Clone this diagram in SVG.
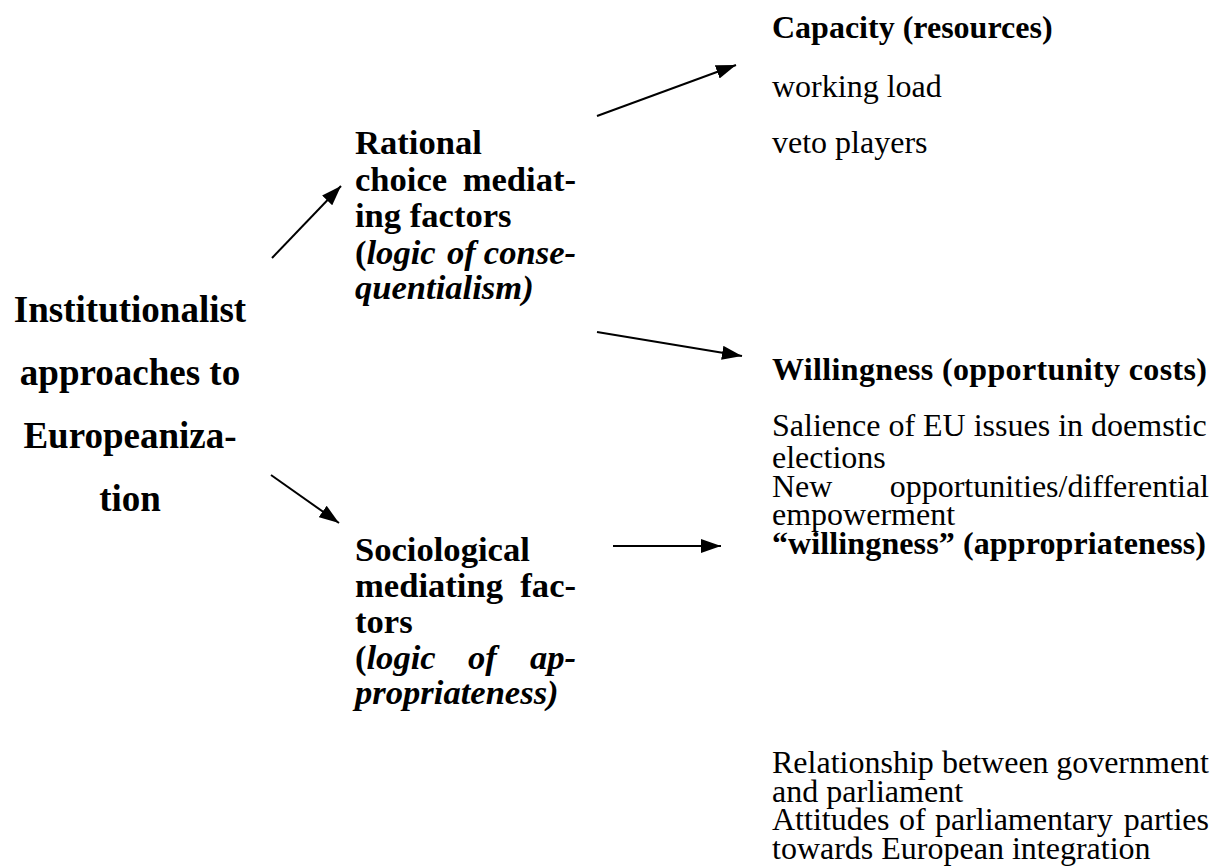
<svg xmlns="http://www.w3.org/2000/svg" width="1219" height="867" viewBox="0 0 1219 867">
<style>
text{font-family:"Liberation Serif","Times New Roman",serif;fill:#000}
.l{font-size:37px;font-weight:bold;text-anchor:middle}
.m{font-size:34.6px;font-weight:bold}
.i{font-style:italic}
.r{font-size:32px}
.b{font-weight:bold}
.e{text-anchor:end}
.arr{stroke:#000;stroke-width:2;fill:none;marker-end:url(#ah)}
</style>
<defs>
<marker id="ah" viewBox="0 0 20 14" refX="20" refY="7" markerWidth="20" markerHeight="14" markerUnits="userSpaceOnUse" orient="auto">
<path d="M0,0 L20,7 L0,14 z" fill="#000"/>
</marker>
</defs>
<rect width="1219" height="867" fill="#fff"/>
<g id="connectors">
<line class="arr" x1="272" y1="258" x2="341" y2="186"/>
<line class="arr" x1="271" y1="475" x2="339" y2="523"/>
<line class="arr" x1="597" y1="116" x2="736" y2="65"/>
<line class="arr" x1="597" y1="332" x2="742" y2="356"/>
<line class="arr" x1="613" y1="546" x2="721" y2="546"/>
</g>
<g id="root">
<text class="l" x="130" y="322">Institutionalist</text>
<text class="l" x="130" y="385">approaches to</text>
<text class="l" x="130" y="448">Europeaniza-</text>
<text class="l" x="130" y="511">tion</text>
</g>
<g id="rational">
<text class="m" x="355" y="154">Rational</text>
<text class="m" x="355" y="190.5">choice</text>
<text class="m e" x="576" y="190.5">mediat-</text>
<text class="m" x="355" y="227">ing factors</text>
<text class="m" x="355" y="263.5">(<tspan class="i">logic</tspan></text>
<text class="m i" x="447" y="263.5">of</text>
<text class="m i e" x="576" y="263.5">conse-</text>
<text class="m i" x="355" y="299">quentialism)</text>
</g>
<g id="sociological">
<text class="m" x="355" y="561">Sociological</text>
<text class="m" x="355" y="597">mediating</text>
<text class="m e" x="576" y="597">fac-</text>
<text class="m" x="355" y="633">tors</text>
<text class="m" x="355" y="669">(<tspan class="i">logic</tspan></text>
<text class="m i" x="468" y="669">of</text>
<text class="m i e" x="576" y="669">ap-</text>
<text class="m i" x="355" y="704">propriateness)</text>
</g>
<g id="capacity">
<text class="r b" x="772" y="38">Capacity (resources)</text>
<text class="r" x="772" y="97">working load</text>
<text class="r" x="772" y="153">veto players</text>
</g>
<g id="willingness">
<text class="r b" x="772" y="380" textLength="435" lengthAdjust="spacing">Willingness (opportunity costs)</text>
<text class="r" x="772" y="436">Salience of EU issues in doemstic</text>
<text class="r" x="772" y="468">elections</text>
<text class="r" x="772" y="497">New</text>
<text class="r e" x="1209" y="497">opportunities/differential</text>
<text class="r" x="772" y="525">empowerment</text>
</g>
<g id="appropriateness">
<text class="r b" x="772" y="554" textLength="434" lengthAdjust="spacing">“willingness” (appropriateness)</text>
<text class="r" x="772" y="773">Relationship</text>
<text class="r" x="942" y="773">between</text>
<text class="r e" x="1209" y="773">government</text>
<text class="r" x="772" y="802">and parliament</text>
<text class="r" x="772" y="830">Attitudes</text>
<text class="r" x="899" y="830">of</text>
<text class="r" x="935" y="830">parliamentary</text>
<text class="r e" x="1209" y="830">parties</text>
<text class="r" x="772" y="859">towards European integration</text>
</g>
</svg>
